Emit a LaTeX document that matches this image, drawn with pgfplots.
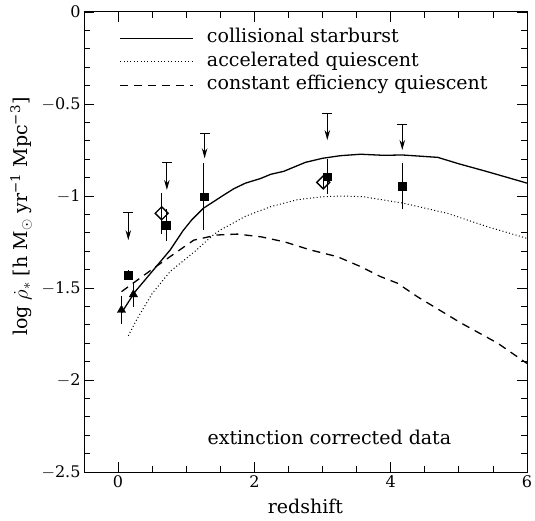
\documentclass[border=0pt]{standalone}
\usepackage{pgfplots}
\pgfplotsset{compat=1.18}
\usepackage{fontspec}
\setmainfont{DejaVu Serif}
\usetikzlibrary{arrows.meta,calc}
\newcommand{\bigtxt}{\fontsize{19bp}{23bp}\selectfont}
\newcommand{\ticktxt}{\fontsize{16bp}{19bp}\selectfont}
\begin{document}
\begin{tikzpicture}
\begin{axis}[
  name=ax,
  scale only axis,
  width=443bp, height=460bp,
  xmin=-0.5, xmax=6, ymin=-2.5, ymax=0,
  xtick={0,2,4,6}, xticklabels={0,2,4,6},
  ytick={-2.5,-2,-1.5,-1,-0.5,0},
  yticklabels={$-$2.5,$-$2,$-$1.5,$-$1,$-$0.5,0},
  minor x tick num=3, minor y tick num=4,
  tick align=inside,
  major tick length=10bp, minor tick length=6bp,
  every tick/.style={black, line width=0.8bp},
  axis line style={line width=1bp},
  tick label style={font=\ticktxt},
  label style={font=\bigtxt},
  xlabel={redshift},
  ylabel={log $\dot{\rho}_*$ [h M$_\odot$ yr\textsuperscript{−1} Mpc\textsuperscript{−3}]},
  ylabel style={at={(rel axis cs:0,0.555)}, anchor=center, yshift=63bp},
  xlabel style={at={(rel axis cs:0.5,0)}, anchor=center, yshift=-34bp},
  legend cell align=left,
  legend style={draw=none, fill=none, at={(rel axis cs:0.08,0.962)}, anchor=north west,
    inner sep=0pt, row sep=6.5bp, font=\bigtxt,
    nodes={inner sep=0pt, text height=13bp, text depth=4bp}},
  legend image code/.code={\draw[#1] (0bp,0bp) -- (73bp,0bp); \path (86bp,0bp);},
]
% collisional starburst
\addplot[black, line width=1.3bp] table {
x y
0.05 -1.635
0.25 -1.52
0.5 -1.41
0.765 -1.293
0.95 -1.19
1.08 -1.13
1.25 -1.067
1.55 -0.995
1.70 -0.96
1.87 -0.93
2.09 -0.905
2.24 -0.882
2.43 -0.866
2.75 -0.817
3.0 -0.795
3.26 -0.781
3.56 -0.773
3.9 -0.779
4.17 -0.777
4.69 -0.79
5.0 -0.825
5.42 -0.868
6.0 -0.93
};
\addlegendentry{collisional starburst}
% accelerated quiescent
\addplot[black, line width=1bp, dash pattern=on 1bp off 2.4bp] table {
x y
0.15 -1.76
0.27 -1.674
0.5 -1.53
0.765 -1.41
1.13 -1.30
1.40 -1.21
1.5 -1.185
1.87 -1.11
2.24 -1.058
2.63 -1.02
3.0 -1.004
3.3 -1.0
3.6 -1.004
4.2 -1.04
4.83 -1.094
5.42 -1.167
6.0 -1.23
};
\addlegendentry{accelerated quiescent}
% constant efficiency quiescent
\addplot[black, line width=1.3bp, dash pattern=on 8bp off 6bp] table {
x y
0.05 -1.52
0.52 -1.393
0.8 -1.32
1.11 -1.24
1.45 -1.212
1.75 -1.207
2.1 -1.222
2.45 -1.25
2.82 -1.293
3.22 -1.33
3.56 -1.384
3.85 -1.438
4.1 -1.474
4.39 -1.547
5.03 -1.69
5.57 -1.80
6.0 -1.91
};
\addlegendentry{constant efficiency quiescent}
% diamonds (open)
\addplot[forget plot, only marks, black, mark=square, mark size=4.6bp,
  mark options={rotate=45, fill=white, line width=1.4bp},
  error bars/.cd, y dir=both, y explicit,
  error bar style={line width=1bp},
  error mark options={mark size=6bp, line width=1bp}]
  table[y error plus=ep, y error minus=em] {
x y ep em
0.64 -1.094 0.076 0.082
3.01 -0.926 0 0
};
% squares (filled)
\addplot[forget plot, only marks, black, mark=square*, mark size=3.9bp,
  error bars/.cd, y dir=both, y explicit,
  error bar style={line width=1bp},
  error mark options={mark size=5bp, line width=1bp}]
  table[y error plus=ep, y error minus=em] {
x y ep em
0.15 -1.43 0 0
0.71 -1.158 0.058 0.06
1.26 -1.004 0.156 0.156
3.07 -0.895 0.068 0.068
4.17 -0.946 0.096 0.099
};
% triangles (filled)
\addplot[forget plot, only marks, black, mark=triangle*, mark size=4.8bp,
  error bars/.cd, y dir=both, y explicit,
  error bar style={line width=1bp},
  error mark options={mark size=5bp, line width=1bp}]
  table[y error plus=ep, y error minus=em] {
x y ep em
0.05 -1.62 0.05 0.05
0.225 -1.535 0.038 0.04
};
% upper limits: arrows
\addplot[forget plot, black, line width=1bp, -{Stealth[length=10bp, width=5.5bp]},
  quiver={u=0, v=\thisrow{v}}] table {
x y v
0.15 -1.087 -0.153
0.716 -0.82 -0.147
1.27 -0.66 -0.135
3.07 -0.55 -0.146
4.17 -0.61 -0.14
};
\addplot[forget plot, only marks, black, mark=-, mark size=5bp, mark options={line width=1bp}] table {
x y
0.15 -1.087
0.716 -0.82
1.27 -0.66
3.07 -0.55
4.17 -0.61
};
\node[anchor=west, inner sep=0pt, font=\bigtxt] at (axis cs:1.31,-2.31) {extinction corrected data};
\end{axis}
\pgfresetboundingbox
\path[use as bounding box] ($(ax.south west)+(-84bp,-48bp)$) rectangle ($(ax.north east)+(8bp,12bp)$);
\end{tikzpicture}
\end{document}
